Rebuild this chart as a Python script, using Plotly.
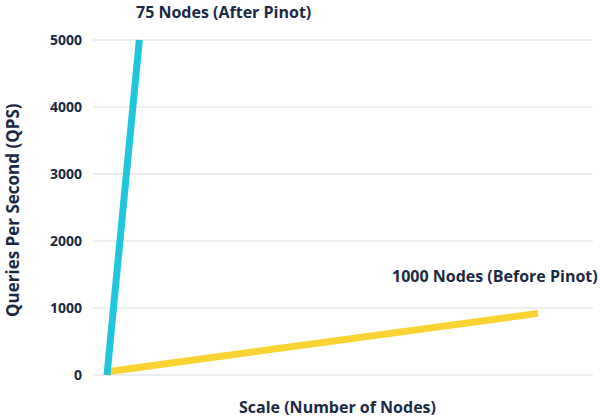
import plotly.graph_objects as go

# Data
after_nodes = [0, 75]
after_qps = [0, 5000]
before_nodes = [0, 1000]
before_qps = [50, 920]
y_ticks = [0, 1000, 2000, 3000, 4000, 5000]
after_label = "75 Nodes (After Pinot)"
before_label = "1000 Nodes (Before Pinot)"
x_title = "Scale (Number of Nodes)"
y_title = "Queries Per Second (QPS)"

TEXT = "#1a2a44"
FONT = "Open Sans"

fig = go.Figure()
fig.add_trace(go.Scatter(x=before_nodes, y=before_qps, mode="lines",
                         line=dict(color="#fbd332", width=7), hoverinfo="skip"))
fig.add_trace(go.Scatter(x=after_nodes, y=after_qps, mode="lines",
                         line=dict(color="#21c6dc", width=7), hoverinfo="skip"))

fig.add_annotation(x=after_nodes[-1], y=after_qps[-1], xref="x", yref="y",
                   text=after_label, showarrow=False, xanchor="left", yanchor="middle",
                   xshift=-5, yshift=28,
                   font=dict(family=FONT, size=16, color=TEXT, weight="bold"))
fig.add_annotation(x=before_nodes[-1], y=before_qps[-1], xref="x", yref="y",
                   text=before_label, showarrow=False, xanchor="center", yanchor="middle",
                   xshift=-43, yshift=37,
                   font=dict(family=FONT, size=16, color=TEXT, weight="bold"))
fig.add_annotation(x=0.5, y=0, xref="paper", yref="paper", text=x_title,
                   showarrow=False, xanchor="center", yanchor="middle", xshift=-6, yshift=-22,
                   font=dict(family=FONT, size=16, color=TEXT, weight="bold"))
fig.add_annotation(x=0, y=0.5, xref="paper", yref="paper", text=y_title, textangle=-90,
                   showarrow=False, xanchor="center", yanchor="middle", xshift=-81, yshift=-2.5,
                   font=dict(family=FONT, size=17, color=TEXT, weight="bold"))

fig.update_layout(
    width=600, height=420,
    margin=dict(l=93, r=7, t=30, b=35),
    paper_bgcolor="white", plot_bgcolor="white",
    showlegend=False,
    xaxis=dict(visible=False, range=[-32.5, 1127.6], fixedrange=True),
    yaxis=dict(range=[-149, 5149], tickvals=y_ticks, showgrid=True,
               gridcolor="#eeeeee", gridwidth=2, zeroline=False, showline=False,
               ticks="", ticklabelstandoff=10, fixedrange=True,
               tickfont=dict(family=FONT, size=14, color=TEXT, weight="bold")),
)

fig.write_html("out.html", config={"displayModeBar": False},
               post_script="document.body.style.margin='0';")
